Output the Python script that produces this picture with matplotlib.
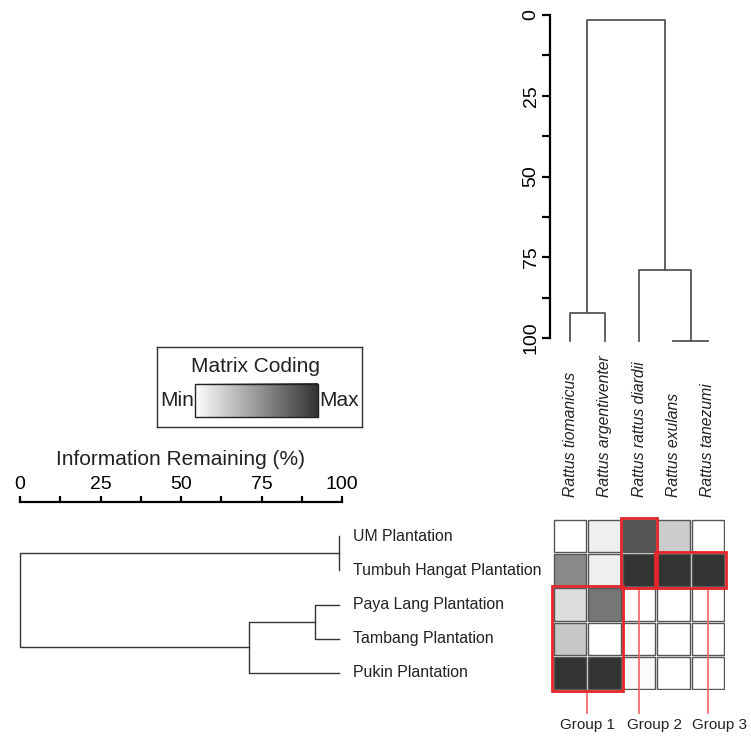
import numpy as np
import matplotlib.pyplot as plt
from matplotlib.colors import LinearSegmentedColormap
from matplotlib.patches import Rectangle

plt.rcParams['font.family'] = ['Liberation Sans', 'DejaVu Sans']

# sites (rows) and species (columns)
sites = ['UM Plantation', 'Tumbuh Hangat Plantation', 'Paya Lang Plantation',
         'Tambang Plantation', 'Pukin Plantation']
species = ['Rattus tiomanicus', 'Rattus argentiventer', 'Rattus rattus diardii',
           'Rattus exulans', 'Rattus tanezumi']

# relative abundance coding, 0 = min, 1 = max
coding = np.array([
    [0.00, 0.08, 0.83, 0.25, 0.00],
    [0.58, 0.08, 1.00, 1.00, 1.00],
    [0.17, 0.67, 0.00, 0.00, 0.00],
    [0.27, 0.00, 0.00, 0.00, 0.00],
    [1.00, 1.00, 0.02, 0.00, 0.00],
])

# cluster merges: (child a, child b, information remaining %)
# indices >= n refer to earlier merges
site_leaf = 99.0
site_merges = [(0, 1, 99.0), (2, 3, 91.5), (6, 4, 71.0), (5, 7, 0.0)]
sp_leaf = 101.0
sp_merges = [(0, 1, 92.2), (3, 4, 101.0), (2, 6, 79.0), (5, 7, 1.5)]

# groups: species columns and site rows
groups = ['Group 1', 'Group 2', 'Group 3']
group_cols = [(0, 1), (2, 2), (3, 4)]
group_rows = [(2, 4), (0, 1), (1, 1)]
group_line_x = [1.0, 2.5, 4.5]
group_text_x = [1.0, 2.95, 4.85]

W, H = 751, 736
fig = plt.figure(figsize=(W / 100, H / 100), dpi=100)


def box(x0, y0, x1, y1):
    return [x0 / W, 1 - y1 / H, (x1 - x0) / W, (y1 - y0) / H]


def dendro_lines(merges, leaf_h, n):
    pos = [i + 0.5 for i in range(n)]
    hgt = [leaf_h] * n
    segs = []
    for a, b, h in merges:
        segs.append(([hgt[a], h, h, hgt[b]], [pos[a], pos[a], pos[b], pos[b]]))
        pos.append((pos[a] + pos[b]) / 2)
        hgt.append(h)
    return segs


gray = LinearSegmentedColormap.from_list('coding', ['#ffffff', '#333333'])

# matrix
ax_m = fig.add_axes(box(553, 519, 725, 690))
ax_m.set_xlim(0, 5)
ax_m.set_ylim(5, 0)
ax_m.axis('off')
g = 0.03
for i in range(len(sites)):
    for j in range(len(species)):
        ax_m.add_patch(Rectangle((j + g, i + g), 1 - 2 * g, 1 - 2 * g,
                                 facecolor=gray(coding[i, j]),
                                 edgecolor='#555555', lw=1))
red = '#e3262c'
for k, name in enumerate(groups):
    c0, c1 = group_cols[k]
    r0, r1 = group_rows[k]
    ax_m.add_patch(Rectangle((c0 - 0.03, r0 - 0.03), c1 - c0 + 1.06, r1 - r0 + 1.06,
                             fill=False, edgecolor=red, lw=2, clip_on=False, zorder=5))
    ax_m.plot([group_line_x[k]] * 2, [r1 + 1.03, 5.67], color='#f06468', lw=1.2,
              clip_on=False)
    ax_m.text(group_text_x[k], 6.03, name, ha='center', va='center', fontsize=11,
              color='#222222', clip_on=False)
for j, name in enumerate(species):
    ax_m.annotate(name, xy=(j + 0.5, 0), xytext=(0, 16), textcoords='offset points',
                  rotation=90, ha='center', va='bottom', style='italic',
                  fontsize=11.3, color='#222222')

# species dendrogram on top
ax_t = fig.add_axes(box(553, 15, 725, 338))
ax_t.set_xlim(0, 5)
ax_t.set_ylim(100, 0)
for xs, ys in dendro_lines(sp_merges, sp_leaf, len(species)):
    ax_t.plot(ys, xs, color='#555555', lw=1.3, clip_on=False)
for s in ['top', 'right', 'bottom']:
    ax_t.spines[s].set_visible(False)
ax_t.spines['left'].set_position(('outward', 2.2))
ax_t.spines['left'].set_linewidth(1.6)
ax_t.set_xticks([])
ax_t.set_yticks([0, 25, 50, 75, 100])
ax_t.set_yticks(np.arange(0, 101, 12.5), minor=True)
ax_t.tick_params(axis='y', which='both', length=5.5, width=1.6, pad=2)
ax_t.tick_params(axis='y', labelsize=14, labelrotation=90)
for lab in ax_t.get_yticklabels():
    lab.set_va('center')
ax_t.patch.set_visible(False)

# site dendrogram on the left
ax_l = fig.add_axes(box(20, 519, 342, 690))
ax_l.set_xlim(0, 100)
ax_l.set_ylim(5, 0)
for xs, ys in dendro_lines(site_merges, site_leaf, len(sites)):
    ax_l.plot(xs, ys, color='#333333', lw=1, clip_on=False)
for i, name in enumerate(sites):
    ax_l.annotate(name, xy=(site_leaf, i + 0.5), xytext=(10, 0),
                  textcoords='offset points', ha='left', va='center',
                  fontsize=11.4, color='#222222')
for s in ['left', 'right', 'bottom']:
    ax_l.spines[s].set_visible(False)
ax_l.spines['top'].set_position(('outward', 12.2))
ax_l.spines['top'].set_linewidth(1.6)
ax_l.set_yticks([])
ax_l.xaxis.set_ticks_position('top')
ax_l.xaxis.set_label_position('top')
ax_l.set_xticks([0, 25, 50, 75, 100])
ax_l.set_xticks(np.arange(0, 101, 12.5), minor=True)
ax_l.tick_params(axis='x', which='both', length=4.5, width=1.6, pad=2, labelsize=14)
ax_l.set_xlabel('Information Remaining (%)', fontsize=15, labelpad=8, color='#222222')
ax_l.patch.set_visible(False)

# colour key
ax_k = fig.add_axes(box(157, 347, 362, 427))
ax_k.set_xlim(0, 1)
ax_k.set_ylim(0, 1)
ax_k.set_xticks([])
ax_k.set_yticks([])
for s in ax_k.spines.values():
    s.set_linewidth(1)
    s.set_color('#333333')
ax_k.imshow(np.linspace(0, 1, 256)[None, :], cmap=gray, aspect='auto',
            extent=(0.185, 0.785, 0.125, 0.54))
ax_k.add_patch(Rectangle((0.185, 0.125), 0.6, 0.415, fill=False,
                         edgecolor='#222222', lw=1))
ax_k.text(0.48, 0.75, 'Matrix Coding', ha='center', va='center', fontsize=15,
          color='#222222')
ax_k.text(0.18, 0.33, 'Min', ha='right', va='center', fontsize=15, color='#222222')
ax_k.text(0.79, 0.33, 'Max', ha='left', va='center', fontsize=15, color='#222222')

fig.savefig('out.png', dpi=100)
